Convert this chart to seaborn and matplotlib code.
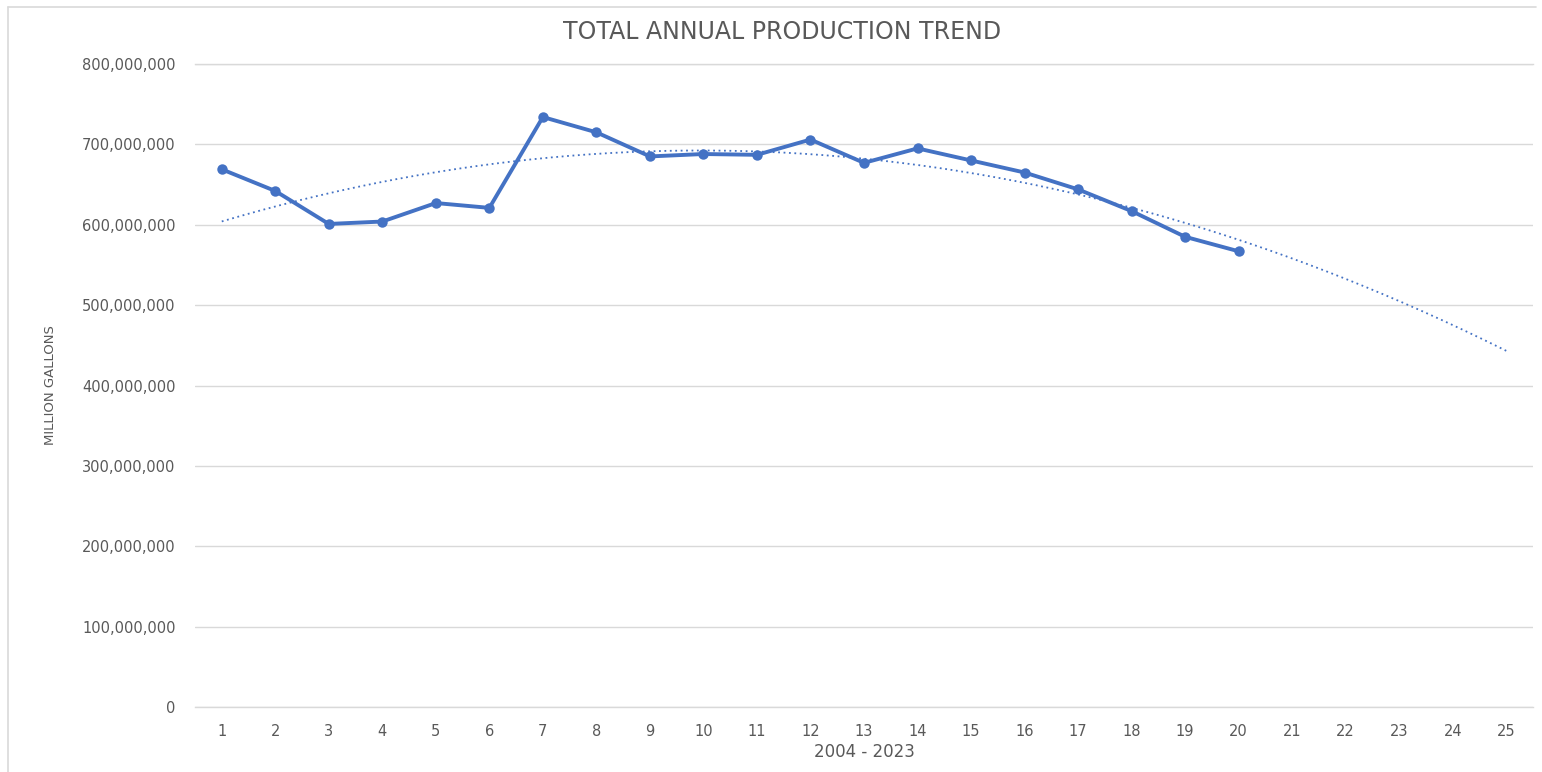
import numpy as np
import pandas as pd
import matplotlib
matplotlib.use("Agg")
import matplotlib.pyplot as plt
from matplotlib.ticker import FuncFormatter
import seaborn as sns

# values (gallons), years 2004-2023 as 1..20
years = list(range(1, 21))
production = [669e6, 642e6, 601e6, 604e6, 627e6, 621e6, 734e6, 715e6, 685e6, 688e6,
              687e6, 706e6, 677e6, 695e6, 680e6, 665e6, 644e6, 617e6, 585e6, 567e6]
x_ticks = list(range(1, 26))
y_ticks = list(range(0, 800000001, 100000000))

blue = "#4472C4"
grey_txt = "#595959"
grid_c = "#D9D9D9"

sns.set_theme(style="white")
plt.rcParams["font.family"] = ["DejaVu Sans"]

df = pd.DataFrame({"year": years, "production": production})

# polynomial (order 2) trendline, forecast to 25
coef = np.polyfit(df["year"], df["production"], 2)
trend_x = np.linspace(1, 25, 200)
trend = pd.DataFrame({"year": trend_x, "production": np.polyval(coef, trend_x)})

fig = plt.figure(figsize=(15.42, 7.72), dpi=100)
ax = fig.add_axes([195 / 1542, 1 - 707 / 772, (1533 - 195) / 1542, (707 - 64) / 772])

sns.lineplot(data=trend, x="year", y="production", ax=ax, color=blue,
             linestyle=(0, (1, 2)), linewidth=1.3)
sns.lineplot(data=df, x="year", y="production", ax=ax, color=blue, linewidth=2.8,
             marker="o", markersize=7.5, markeredgewidth=0)

ax.set_xlim(0.5, 25.5)
ax.set_ylim(0, 800000000)
ax.set_xticks(x_ticks)
ax.set_yticks(y_ticks)
ax.yaxis.set_major_formatter(FuncFormatter(lambda v, p: f"{int(v):,}"))
ax.grid(axis="y", color=grid_c, linewidth=1)
ax.set_axisbelow(True)
for name, s in ax.spines.items():
    s.set_visible(name in ("bottom", "top"))
    s.set_color(grid_c)
    s.set_linewidth(1)
ax.tick_params(axis="both", length=0, labelsize=10.5, colors=grey_txt)
ax.tick_params(axis="x", pad=12)
ax.tick_params(axis="y", pad=14)

ax.set_xlabel("2004 - 2023", fontsize=12, color=grey_txt, labelpad=3)
ax.set_ylabel("MILLION GALLONS", fontsize=9.5, color=grey_txt, labelpad=18,
              family=["Liberation Sans Narrow", "DejaVu Sans"])
fig.text(782 / 1542, 1 - 32 / 772, "TOTAL ANNUAL PRODUCTION TREND",
         ha="center", va="center", fontsize=17, color=grey_txt)

# faint chart-area frame
fig.add_artist(plt.Line2D([8 / 1542, 8 / 1542], [0, 1 - 7 / 772], color=grid_c, lw=1.2))
fig.add_artist(plt.Line2D([8 / 1542, 1536 / 1542], [1 - 7 / 772, 1 - 7 / 772], color=grid_c, lw=1.2))

fig.savefig("out.png", dpi=100)
